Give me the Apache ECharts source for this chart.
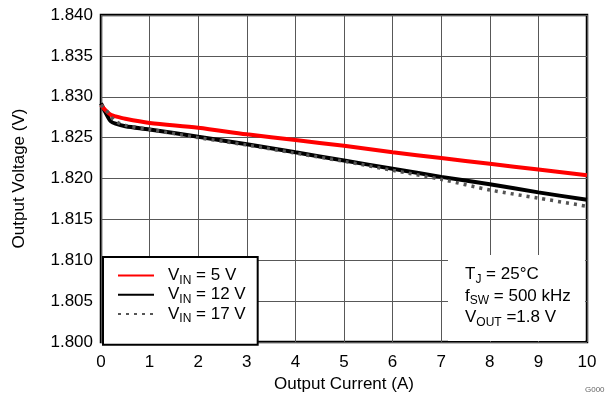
<!DOCTYPE html>
<html>
<head>
<meta charset="utf-8">
<script src="https://cdn.jsdelivr.net/npm/echarts@6/dist/echarts.min.js"></script>
<style>
  html, body { margin: 0; padding: 0; background: #fff; }
  #main { width: 613px; height: 393px; }
</style>
</head>
<body>
<div id="main"></div>
<script>
// 输出电流 (A)
var current = [0, 0.1, 0.2, 0.3, 0.5, 1, 2, 3, 4, 5, 6, 7, 8, 9, 10];
// 各输入电压下的输出电压 (V)
var vin5  = [1.8290, 1.8283, 1.8278, 1.8276, 1.8273, 1.8268, 1.8262, 1.8254, 1.8247, 1.8240, 1.8232, 1.8225, 1.8218, 1.8211, 1.8204];
var vin12 = [1.8292, 1.8280, 1.8270, 1.8267, 1.8264, 1.8260, 1.8251, 1.8242, 1.8232, 1.8222, 1.8212, 1.8202, 1.8193, 1.8183, 1.8174];
var vin17 = [1.8290, 1.8284, 1.8276, 1.8270, 1.8265, 1.8260, 1.8250, 1.8241, 1.8231, 1.8221, 1.8210, 1.8199, 1.8186, 1.8176, 1.8166];
var seriesNames = ['5 V', '12 V', '17 V'];
var notes = ['{m|T}{s|J}{m| = 25°C}', '{m|f}{s|SW}{m| = 500 kHz}', '{m|V}{s|OUT}{m| =1.8 V}'];

function pairs(ys) {
  var out = [];
  for (var i = 0; i < current.length; i++) out.push([current[i], ys[i]]);
  return out;
}

var FONT = 'Liberation Sans, Arial, sans-serif';
var richText = {
  p: { fontSize: 17, fontFamily: FONT, color: '#000', lineHeight: 21.5, padding: [0, 0, 0, 9] },
  m: { fontSize: 17, fontFamily: FONT, color: '#000', lineHeight: 21.5 },
  s: { fontSize: 12, fontFamily: FONT, color: '#000', lineHeight: 12, verticalAlign: 'bottom' }
};

var myChart = echarts.init(document.getElementById('main'));
var option = {
  animation: false,
  grid: {
    left: 101, right: 26, top: 15, bottom: 51, outerBoundsMode: 'none',
    show: true, borderColor: '#000', borderWidth: 2.5, backgroundColor: 'transparent'
  },
  xAxis: {
    type: 'value', min: 0, max: 10, interval: 1,
    name: 'Output Current (A)', nameLocation: 'middle', nameGap: 31,
    nameTextStyle: { fontSize: 17, fontFamily: FONT, color: '#000' },
    axisLine: { show: false }, axisTick: { show: false },
    axisLabel: { fontSize: 17, fontFamily: FONT, color: '#000', margin: 12 },
    splitLine: { lineStyle: { color: '#585858', width: 1 } }
  },
  yAxis: {
    type: 'value', min: 1.8, max: 1.84, interval: 0.005,
    name: 'Output Voltage (V)', nameLocation: 'middle', nameGap: 73,
    nameTextStyle: { fontSize: 17, fontFamily: FONT, color: '#000' },
    axisLine: { show: false }, axisTick: { show: false },
    axisLabel: { fontSize: 17, fontFamily: FONT, color: '#000', margin: 8,
      formatter: function (v) { return v.toFixed(3); } },
    splitLine: { lineStyle: { color: '#585858', width: 1 } }
  },
  legend: {
    orient: 'vertical', left: 103, top: 257,
    padding: [10, 12, 20, 14], itemGap: 0, itemWidth: 36, itemHeight: 21,
    backgroundColor: '#fff', borderColor: '#000', borderWidth: 2, borderRadius: 0,
    itemStyle: { opacity: 0 },
    data: seriesNames,
    formatter: function (name) { return '{p|V}{s|IN}{m| = ' + name + '}'; },
    textStyle: { rich: richText }
  },
  graphic: [
    { type: 'rect', z: 3, shape: { x: 448, y: 255, width: 137, height: 86 }, style: { fill: '#fff' } },
    { type: 'text', z: 4, left: 465, top: 266,
      style: { text: notes.join('\n'), rich: richText, fill: '#000' } },
    { type: 'text', z: 4, left: 585, top: 386,
      style: { text: 'G000', fontSize: 8, fontFamily: FONT, fill: '#666' } }
  ],
  series: [
    { name: seriesNames[0], type: 'line', data: pairs(vin5), symbol: 'none', smooth: 0.3,
      lineStyle: { color: '#ff0000', width: 4 }, itemStyle: { color: '#ff0000' }, z: 3 },
    { name: seriesNames[1], type: 'line', data: pairs(vin12), symbol: 'none', smooth: 0.3,
      lineStyle: { color: '#000', width: 4 }, itemStyle: { color: '#000' }, z: 2 },
    { name: seriesNames[2], type: 'line', data: pairs(vin17), symbol: 'none', smooth: 0.3,
      lineStyle: { color: '#555', width: 3.5, type: [3, 5] }, itemStyle: { color: '#555' }, z: 4 }
  ]
};
myChart.setOption(option);
</script>
</body>
</html>
